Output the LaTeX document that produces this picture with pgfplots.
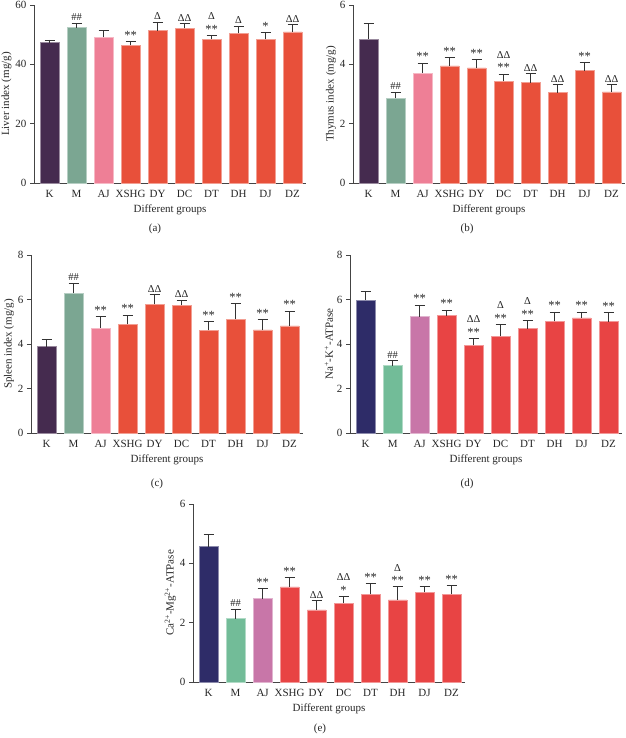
\documentclass[border=0pt]{standalone}
\usepackage{fontspec}
\setmainfont{Liberation Serif}
\usepackage{pgfplots}
\pgfplotsset{compat=1.18}

\definecolor{kA}{HTML}{452B4F}
\definecolor{mA}{HTML}{7BA692}
\definecolor{aA}{HTML}{EE7F96}
\definecolor{rA}{HTML}{E8503A}
\definecolor{kB}{HTML}{2E2C68}
\definecolor{mB}{HTML}{72BC98}
\definecolor{aB}{HTML}{C876A8}
\definecolor{rB}{HTML}{E84444}
\definecolor{axgray}{HTML}{444444}
\definecolor{errgray}{HTML}{333333}

\newcommand{\ticksize}{\fontsize{11}{12.5}\selectfont}
\newcommand{\annsize}{\fontsize{10.5}{13.5}\selectfont}
\newcommand{\st}{{\fontsize{12.5}{13.5}\selectfont *}}
\newcommand{\ann}[3]{\node[annot] at (axis cs:#1,#2) {#3};}

\tikzset{annot/.style={anchor=south, inner sep=2pt, font=\annsize, align=center, text=black!85}}

\pgfplotsset{
  panel/.style={
    scale only axis, width=272pt, height=178pt,
    xmin=-0.58, xmax=9.5, ymin=0,
    axis lines=left, axis line style={-, draw=axgray, line width=0.8pt},
    xtick={0,...,9}, xticklabels={K,M,AJ,XSHG,DY,DC,DT,DH,DJ,DZ},
    x tick style={draw=none},
    y tick style={draw=axgray, line width=0.8pt},
    tick align=outside, major tick length=4pt,
    tick label style={font=\ticksize, text=black!85},
    label style={font=\ticksize, text=black!85},
    ylabel style={yshift=-3pt},
    xlabel={Different groups},
    /pgf/number format/assume math mode=true,
    clip=false,
  },
  barp/.style={ybar, bar width=18.5pt, draw=#1!55!white, line width=0.5pt, fill=#1,
    error bars/.cd, y dir=plus, y explicit,
    error bar style={draw=errgray, line width=0.8pt},
    error mark options={draw=errgray, line width=0.8pt, mark size=5pt, rotate=90}},
}

\begin{document}
\begin{tikzpicture}
% (a) liver index
\begin{axis}[panel, at={(34pt,555pt)}, anchor=south west, ymax=60, ytick={0,20,40,60},
  ylabel={Liver index (mg/g)}]
\addplot[barp=kA] coordinates {(0,47.3) +- (0,0.9)};
\addplot[barp=mA] coordinates {(1,52.4) +- (0,1.5)};
\addplot[barp=aA] coordinates {(2,49.1) +- (0,2.2)};
\addplot[barp=rA] coordinates {(3,46.4) +- (0,1.3) (4,51.4) +- (0,2.9) (5,52.1) +- (0,1.6)
  (6,48.4) +- (0,1.3) (7,50.4) +- (0,2.5) (8,48.4) +- (0,2.2) (9,50.9) +- (0,2.5)};
\ann{1}{53.9}{\#\#}
\ann{3}{47.7}{\st\st}
\ann{4}{54.3}{Δ}
\ann{5}{53.7}{ΔΔ}
\ann{6}{49.7}{Δ\\\st\st}
\ann{7}{52.9}{Δ}
\ann{8}{50.6}{\st}
\ann{9}{53.4}{ΔΔ}
\end{axis}

% (b) thymus index
\begin{axis}[panel, at={(353pt,555pt)}, anchor=south west, ymax=6, ytick={0,2,4,6},
  ylabel={Thymus index (mg/g)}]
\addplot[barp=kA] coordinates {(0,4.86) +- (0,0.52)};
\addplot[barp=mA] coordinates {(1,2.85) +- (0,0.22)};
\addplot[barp=aA] coordinates {(2,3.71) +- (0,0.33)};
\addplot[barp=rA] coordinates {(3,3.95) +- (0,0.29) (4,3.88) +- (0,0.29) (5,3.43) +- (0,0.24)
  (6,3.38) +- (0,0.31) (7,3.05) +- (0,0.26) (8,3.79) +- (0,0.28) (9,3.07) +- (0,0.25)};
\ann{1}{3.07}{\#\#}
\ann{2}{4.04}{\st\st}
\ann{3}{4.24}{\st\st}
\ann{4}{4.17}{\st\st}
\ann{5}{3.67}{ΔΔ\\\st\st}
\ann{6}{3.69}{ΔΔ}
\ann{7}{3.31}{ΔΔ}
\ann{8}{4.07}{\st\st}
\ann{9}{3.32}{ΔΔ}
\end{axis}

% (c) spleen index
\begin{axis}[panel, at={(31pt,305pt)}, anchor=south west, ymax=8, ytick={0,2,4,6,8},
  ylabel={Spleen index (mg/g)}]
\addplot[barp=kA] coordinates {(0,3.88) +- (0,0.33)};
\addplot[barp=mA] coordinates {(1,6.29) +- (0,0.45)};
\addplot[barp=aA] coordinates {(2,4.72) +- (0,0.51)};
\addplot[barp=rA] coordinates {(3,4.88) +- (0,0.42) (4,5.78) +- (0,0.45) (5,5.74) +- (0,0.24)
  (6,4.61) +- (0,0.39) (7,5.12) +- (0,0.71) (8,4.63) +- (0,0.46) (9,4.81) +- (0,0.67)};
\ann{1}{6.74}{\#\#}
\ann{2}{5.23}{\st\st}
\ann{3}{5.30}{\st\st}
\ann{4}{6.23}{ΔΔ}
\ann{5}{5.98}{ΔΔ}
\ann{6}{5.00}{\st\st}
\ann{7}{5.83}{\st\st}
\ann{8}{5.09}{\st\st}
\ann{9}{5.48}{\st\st}
\end{axis}

% (d) Na-K-ATPase
\begin{axis}[panel, at={(350pt,305pt)}, anchor=south west, ymax=8, ytick={0,2,4,6,8},
  ylabel={Na\textsuperscript{+}-K\textsuperscript{+}-ATPase}]
\addplot[barp=kB] coordinates {(0,5.98) +- (0,0.39)};
\addplot[barp=mB] coordinates {(1,3.03) +- (0,0.22)};
\addplot[barp=aB] coordinates {(2,5.23) +- (0,0.52)};
\addplot[barp=rB] coordinates {(3,5.27) +- (0,0.26) (4,3.94) +- (0,0.31) (5,4.34) +- (0,0.53)
  (6,4.69) +- (0,0.36) (7,5.02) +- (0,0.42) (8,5.17) +- (0,0.27) (9,5.00) +- (0,0.41)};
\ann{1}{3.25}{\#\#}
\ann{2}{5.75}{\st\st}
\ann{3}{5.53}{\st\st}
\ann{4}{4.25}{ΔΔ\\\st\st}
\ann{5}{4.87}{Δ\\\st\st}
\ann{6}{5.05}{Δ\\\st\st}
\ann{7}{5.44}{\st\st}
\ann{8}{5.44}{\st\st}
\ann{9}{5.41}{\st\st}
\end{axis}

% (e) Ca-Mg-ATPase
\begin{axis}[panel, at={(193pt,56pt)}, anchor=south west, ymax=6, ytick={0,2,4,6},
  ylabel={Ca\textsuperscript{2+}-Mg\textsuperscript{2+}-ATPase}]
\addplot[barp=kB] coordinates {(0,4.56) +- (0,0.40)};
\addplot[barp=mB] coordinates {(1,2.14) +- (0,0.32)};
\addplot[barp=aB] coordinates {(2,2.81) +- (0,0.33)};
\addplot[barp=rB] coordinates {(3,3.21) +- (0,0.31) (4,2.43) +- (0,0.31) (5,2.66) +- (0,0.23)
  (6,2.95) +- (0,0.38) (7,2.77) +- (0,0.44) (8,3.03) +- (0,0.19) (9,2.95) +- (0,0.31)};
\ann{1}{2.46}{\#\#}
\ann{2}{3.14}{\st\st}
\ann{3}{3.52}{\st\st}
\ann{4}{2.74}{ΔΔ}
\ann{5}{2.89}{ΔΔ\\\st}
\ann{6}{3.33}{\st\st}
\ann{7}{3.21}{Δ\\\st\st}
\ann{8}{3.22}{\st\st}
\ann{9}{3.26}{\st\st}
\end{axis}

\node[font=\ticksize, text=black!85] at (155pt,509pt) {(a)};
\node[font=\ticksize, text=black!85] at (467pt,509pt) {(b)};
\node[font=\ticksize, text=black!85] at (157pt,254pt) {(c)};
\node[font=\ticksize, text=black!85] at (467pt,254pt) {(d)};
\node[font=\ticksize, text=black!85] at (320pt,9pt) {(e)};

\pgfresetboundingbox
\path[use as bounding box] (0pt,0pt) rectangle (625pt,738pt);
\end{tikzpicture}
\end{document}
